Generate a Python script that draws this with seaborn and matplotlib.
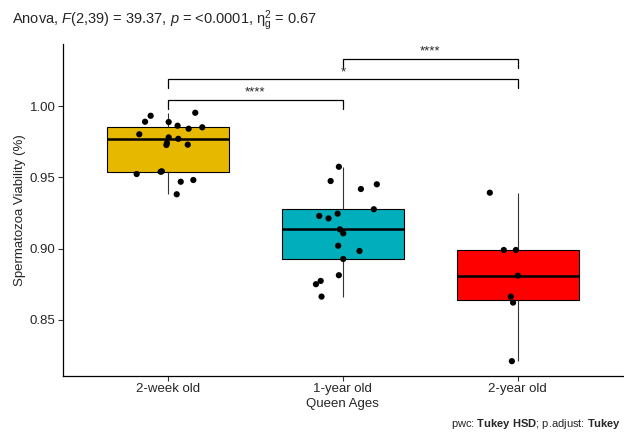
import numpy as np
import pandas as pd
import matplotlib
matplotlib.use("Agg")
import matplotlib.pyplot as plt
import seaborn as sns

# ── data ────────────────────────────────────────────────
GROUPS = ["2-week old", "1-year old", "2-year old"]
COLORS = ["#E7B800", "#00AFBB", "#FF0000"]

week2_vals = [0.9932, 0.9890, 0.9953, 0.9888, 0.9862, 0.9841, 0.9851, 0.9802,
              0.9780, 0.9770, 0.9740, 0.9727, 0.9542, 0.9729, 0.9523, 0.9539,
              0.9469, 0.9481, 0.9381]
week2_jit = [-0.099, -0.131, 0.156, 0.004, 0.055, 0.118, 0.196, -0.164,
             0.004, 0.059, -0.006, -0.009, -0.035, 0.113, -0.179, -0.042,
             0.073, 0.145, 0.050]

year1_vals = [0.9574, 0.9474, 0.9418, 0.9451, 0.9276, 0.9229, 0.9212, 0.9245,
              0.9135, 0.9107, 0.9020, 0.8983, 0.8927, 0.8813, 0.8773, 0.8750,
              0.8663]
year1_jit = [-0.023, -0.070, 0.103, 0.194, 0.177, -0.135, -0.082, -0.030,
             -0.017, 0.002, -0.027, 0.095, 0.002, -0.023, -0.127, -0.154,
             -0.122]

year2_vals = [0.9392, 0.8990, 0.8990, 0.8810, 0.8663, 0.8621, 0.8210]
year2_jit = [-0.160, -0.080, -0.011, 0.000, -0.040, -0.027, -0.034]

# pairwise comparisons (Tukey HSD)
comp_pairs = [(0, 1), (0, 2), (1, 2)]
comp_y = [1.0042, 1.0189, 1.0330]
comp_labels = ["****", "*", "****"]

df = pd.DataFrame({
    "group": [GROUPS[0]] * len(week2_vals) + [GROUPS[1]] * len(year1_vals)
             + [GROUPS[2]] * len(year2_vals),
    "viability": week2_vals + year1_vals + year2_vals,
})
df["xpos"] = ([0 + j for j in week2_jit] + [1 + j for j in year1_jit]
              + [2 + j for j in year2_jit])

# ── style ───────────────────────────────────────────────
sns.set_theme(style="ticks")
plt.rcParams["font.family"] = ["Liberation Sans", "DejaVu Sans"]
plt.rcParams["mathtext.fontset"] = "custom"
plt.rcParams["mathtext.rm"] = "Liberation Sans"
plt.rcParams["mathtext.it"] = "Liberation Sans:italic"
plt.rcParams["mathtext.bf"] = "Liberation Sans:bold"

fig = plt.figure(figsize=(6.24, 4.32), dpi=100)
ax = fig.add_axes([0.101, 0.130, 0.897, 0.768])

sns.boxplot(data=df, x="group", y="viability", hue="group", order=GROUPS,
            palette=COLORS, saturation=1, width=0.7, showfliers=False,
            showcaps=False, linecolor="black", linewidth=0.8,
            medianprops={"linewidth": 1.8},
            whiskerprops={"color": "#333333"}, legend=False, ax=ax)
sns.scatterplot(data=df, x="xpos", y="viability", color="black", s=20,
                edgecolor="none", ax=ax, zorder=3)

# significance brackets
tip = 0.0062
for (g1, g2), yb, lab in zip(comp_pairs, comp_y, comp_labels):
    ax.plot([g1, g1, g2, g2], [yb - tip, yb, yb, yb - tip],
            color="black", linewidth=0.9, solid_joinstyle="miter")
    ax.text((g1 + g2) / 2, yb + 0.0008, lab, ha="center", va="bottom",
            fontsize=9.5)

ax.set_xlim(-0.6, 2.6)
ax.set_ylim(0.8107, 1.0435)
ax.set_yticks([0.85, 0.90, 0.95, 1.00])
ax.set_yticklabels(["0.85", "0.90", "0.95", "1.00"])
ax.set_xticks([0, 1, 2])
ax.set_xticklabels(GROUPS)
ax.set_xlabel("Queen Ages", fontsize=9.5, labelpad=2)
ax.set_ylabel("Spermatozoa Viability (%)", fontsize=9.5)
ax.yaxis.set_label_coords(-0.066, 0.5)
ax.tick_params(axis="both", labelsize=9.5, length=3.5, width=0.8,
               color="#333333", labelcolor="#262626", pad=2)
sns.despine(ax=ax)
for sp in ["left", "bottom"]:
    ax.spines[sp].set_linewidth(0.9)
    ax.spines[sp].set_color("black")

fig.text(0.019, 0.953,
         r"Anova, $\mathit{F}$(2,39) = 39.37, $\mathit{p}$ = <0.0001, "
         r"$\mathrm{\eta}^{2}_{\mathrm{g}}$ = 0.67",
         ha="left", va="center", fontsize=10.5)
fig.text(0.996, 0.018, r"pwc: $\mathbf{Tukey\ HSD}$; p.adjust: $\mathbf{Tukey}$",
         ha="right", va="center", fontsize=8)

fig.savefig("out.png", dpi=100)
